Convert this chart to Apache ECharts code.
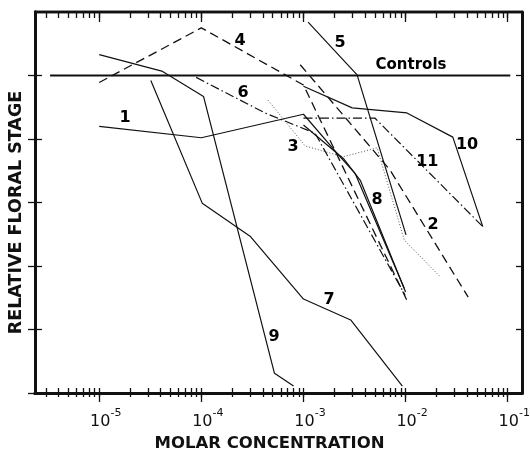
<!DOCTYPE html>
<html><head><meta charset="utf-8">
<script src="https://cdn.jsdelivr.net/npm/echarts@6/dist/echarts.min.js"></script>
<style>html,body{margin:0;padding:0;background:#fff}#c{width:530px;height:451px}</style>
</head><body><div id="c"></div>
<script>
// ---- data (molar concentration, relative floral stage) ----
const conc1 = [1.0e-5, 1.0e-4, 1.0e-3, 2.2e-3, 3.2e-3, 9.7e-3];
const stage1 = [4.20, 4.02, 4.39, 3.75, 3.46, 1.65];
const conc2 = [9.3e-4, 7.05e-3, 4.1e-2];
const stage2 = [5.17, 3.51, 1.51];
const conc3 = [4.5e-4, 1.04e-3, 2.44e-3, 5.26e-3, 9.7e-3, 2.18e-2];
const stage3 = [4.61, 3.89, 3.72, 3.86, 2.41, 1.83];
const conc4 = [1.0e-5, 1.0e-4, 1.0e-3, 1.03e-2];
const stage4 = [4.89, 5.75, 4.85, 1.46];
const conc5 = [1.11e-3, 3.35e-3, 1.01e-2];
const stage5 = [5.84, 5.01, 2.49];
const conc6 = [8.9e-5, 4.2e-4, 1.3e-3, 9.9e-3];
const stage6 = [4.97, 4.41, 4.09, 1.54];
const conc7 = [3.2e-5, 1.02e-4, 3.0e-4, 1.0e-3, 2.9e-3, 9.3e-3];
const stage7 = [4.92, 2.99, 2.47, 1.48, 1.15, 0.11];
const conc8 = [1.0e-3, 2.5e-3, 3.6e-3, 1.0e-2];
const stage8 = [4.22, 3.68, 3.35, 1.59];
const conc9 = [1.0e-5, 4.1e-5, 1.05e-4, 5.2e-4, 8.0e-4];
const stage9 = [5.33, 5.07, 4.67, 0.31, 0.11];
const conc10 = [1.0e-3, 3.0e-3, 1.03e-2, 2.9e-2, 5.7e-2];
const stage10 = [4.83, 4.49, 4.41, 4.03, 2.62];
const conc11 = [1.0e-3, 5.0e-3, 5.7e-2];
const stage11 = [4.33, 4.33, 2.62];
const concControls = [3.3e-6, 0.106];
const stageControls = [5, 5];

const decadeExponents = [-5, -4, -3, -2, -1];   // tick labels 10^n
const stageTicks = [0, 1, 2, 3, 4, 5];

// annotation texts and where they sit (conc, stage)
const annoText  = ['1', '2', '3', '4', '5', '6', '7', '8', '9', '10', '11', 'Controls'];
const annoConc  = [1.79e-5, 1.86e-2, 7.9e-4, 2.39e-4, 2.28e-3, 2.56e-4, 1.78e-3, 5.26e-3, 5.16e-4, 4.0e-2, 1.63e-2, 1.13e-2];
const annoStage = [4.33, 2.65, 3.87, 5.54, 5.51, 4.72, 1.46, 3.04, 0.88, 3.91, 3.64, 5.17];

// ---- build ----
const L = Math.log10;
const xMin = L(2.35e-6), xMax = L(0.138);
const majorTicks = decadeExponents.slice();
const allTicks = [];
for (let d = -6; d <= -1; d++) for (let k = 1; k <= 9; k++) {
  const v = d + L(k);
  if (v >= xMin && v <= xMax) allTicks.push(v);
}
const FONT = 'DejaVu Sans';
const INK = '#111';
const styles = {
  solid:   {type: 'solid', width: 1.2},
  dashed:  {type: [9, 5], width: 1.3},
  dashdot: {type: [9, 3, 1.5, 3], width: 1.2},
  dotted:  {type: [1, 2], width: 1, color: '#555'}
};
const curves = [
  ['1', conc1, stage1, 'solid'], ['2', conc2, stage2, 'dashed'], ['3', conc3, stage3, 'dotted'],
  ['4', conc4, stage4, 'dashed'], ['5', conc5, stage5, 'solid'], ['6', conc6, stage6, 'dashdot'],
  ['7', conc7, stage7, 'solid'], ['8', conc8, stage8, 'solid'], ['9', conc9, stage9, 'solid'],
  ['10', conc10, stage10, 'solid'], ['11', conc11, stage11, 'dashdot']
];
const series = curves.map(([name, c, s, st]) => ({
  name, type: 'line', xAxisIndex: 0, yAxisIndex: 0, symbol: 'none', silent: true,
  lineStyle: Object.assign({color: INK}, styles[st]),
  data: c.map((x, i) => [L(x), s[i]])
}));
series.push({
  name: 'Controls', type: 'line', symbol: 'none', silent: true,
  lineStyle: {color: INK, width: 2},
  data: concControls.map((x, i) => [L(x), stageControls[i]])
});
series.push({
  type: 'scatter', symbolSize: 1, silent: true, itemStyle: {color: 'rgba(0,0,0,0)', opacity: 1},
  label: {show: true, position: 'inside', formatter: '{b}', color: '#000', opacity: 1,
          fontFamily: FONT, fontWeight: 'bold', fontSize: 16},
  data: annoText.map((t, i) => ({name: t, value: [L(annoConc[i]), annoStage[i]],
        label: t === 'Controls' ? {fontSize: 15} : {}}))
});

function xAx(pos, inside, len, ticks, extra) {
  return Object.assign({
    type: 'value', position: pos, min: xMin, max: xMax, offset: 0,
    axisLine: {show: true, onZero: false, lineStyle: {color: INK, width: pos === 'bottom' ? 3 : 2.3}},
    axisTick: {show: true, inside, length: len, customValues: ticks, lineStyle: {color: INK, width: 1.3}},
    axisLabel: {show: false}, splitLine: {show: false}
  }, extra || {});
}
function yAx(pos, inside, len, ticks, extra) {
  return Object.assign({
    type: 'value', position: pos, min: 0, max: 6, offset: 0,
    axisLine: {show: true, onZero: false, lineStyle: {color: INK, width: 3}},
    axisTick: {show: true, inside, length: len, customValues: ticks, lineStyle: {color: INK, width: 1.3}},
    axisLabel: {show: false}, splitLine: {show: false}
  }, extra || {});
}

const option = {
  animation: false,
  backgroundColor: '#fff',
  grid: {left: 35, right: 8, top: 12, bottom: 58, containLabel: false, outerBoundsMode: 'none'},
  xAxis: [
    xAx('bottom', true, 5, allTicks, {
      name: 'MOLAR CONCENTRATION', nameLocation: 'middle', nameGap: 34,
      nameTextStyle: {fontFamily: FONT, fontWeight: 'bold', fontSize: 16.5, color: INK, padding: [0, 18, 0, 0]},
      axisLabel: {show: true, customValues: majorTicks, margin: 15, color: INK,
        formatter: v => '{b|10}{s|' + Math.round(v) + '}',
        rich: {
          b: {fontFamily: FONT, fontSize: 16, lineHeight: 22, verticalAlign: 'bottom', padding: [0, 0, 0, 13], color: INK},
          s: {fontFamily: FONT, fontSize: 11, lineHeight: 12, verticalAlign: 'top', color: INK}
        }}
    }),
    xAx('bottom', false, 4, allTicks),
    xAx('bottom', false, 9, majorTicks),
    xAx('top', true, 6, allTicks),
    xAx('top', true, 10, majorTicks)
  ],
  yAxis: [
    yAx('left', true, 7, stageTicks, {
      name: 'RELATIVE FLORAL STAGE', nameLocation: 'middle', nameGap: 10,
      nameTextStyle: {fontFamily: FONT, fontWeight: 'bold', fontSize: 17.5, color: INK, padding: [0, 20, 0, 0]}
    }),
    yAx('left', false, 7, stageTicks),
    yAx('right', true, 6, [1, 2, 3, 4, 5])
  ],
  series
};
const chart = echarts.init(document.getElementById('c'), null, {renderer: 'canvas'});
chart.setOption(option);
</script></body></html>
